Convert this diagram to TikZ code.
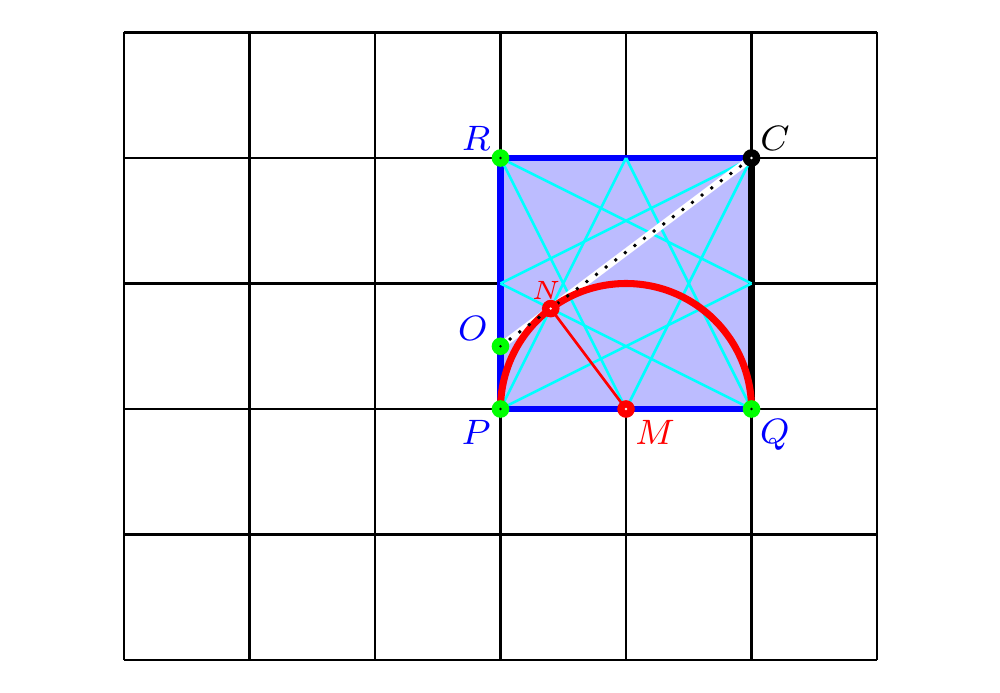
\documentclass[tikz,border=0pt]{standalone}
\usetikzlibrary{calc}
\definecolor{sqblue}{RGB}{188,188,255}
\definecolor{ptgreen}{RGB}{0,255,0}
\definecolor{starcyan}{RGB}{0,255,255}
\begin{document}
\begin{tikzpicture}[
  gridline/.style={black, line width=0.5pt},
  sqborder/.style={blue, line width=1.4pt},
  sideline/.style={black, line width=1.4pt},
  starline/.style={starcyan, line width=0.6pt},
  arcline/.style={red, line width=1.6pt},
  radline/.style={red, line width=0.6pt},
  whiteline/.style={white, line width=1.6pt},
  dotline/.style={black, line width=0.9pt, line cap=round, dash pattern=on 0pt off 2.72pt},
  lab/.style={font=\fontsize{8.4}{10}\selectfont, inner sep=0pt},
  smalllab/.style={font=\fontsize{5.8}{7}\selectfont, inner sep=0pt}
]
\useasboundingbox (-0.988,-0.255) rectangle (6.980,5.259);
% grid
\draw[gridline] (0,0) grid (6,5);
% points
\coordinate (P) at (3,2);
\coordinate (Q) at (5,2);
\coordinate (R) at (3,4);
\coordinate (C) at (5,4);
\coordinate (M) at (4,2);
\coordinate (O) at (3,2.5);
\coordinate (N) at (3.4,2.8);
\coordinate (T) at (4,4);
\coordinate (L) at (3,3);
\coordinate (Rm) at (5,3);
% square
\fill[sqblue] (P) rectangle (C);
\draw[sqborder] (Q) -- (P) -- (R) -- (C);
\draw[sideline] (C) -- (Q);
% star
\draw[starline] (R) -- (Rm);
\draw[starline] (R) -- (M);
\draw[starline] (C) -- (L);
\draw[starline] (C) -- (M);
\draw[starline] (P) -- (T);
\draw[starline] (P) -- (Rm);
\draw[starline] (Q) -- (T);
\draw[starline] (Q) -- (L);
% tangent line
\draw[whiteline] (O) -- (C);
% semicircle
\draw[arcline] (Q) arc[start angle=0, end angle=180, radius=1];
\draw[dotline] (O) -- (C);
\draw[radline] (N) -- (M);
% point marks
\foreach \p in {P,Q,R,O}{
  \fill[ptgreen] (\p) circle (2pt);
  \fill[black] (\p) circle (0.3pt);
}
\fill[black] (C) circle (2pt);
\fill[white] (C) circle (0.3pt);
\foreach \p in {M,N}{
  \fill[red] (\p) circle (2pt);
  \fill[white] (\p) circle (0.3pt);
}
% labels
\node[lab, text=blue] (lR) at ($(R)+(-0.195,0.159)$) {$R$};
\node[lab, text=black] (lC) at ($(C)+(0.187,0.159)$) {$C$};
\node[lab, text=blue] (lO) at ($(O)+(-0.22,0.145)$) {$O$};
\node[lab, text=blue] (lP) at ($(P)+(-0.195,-0.183)$) {$P$};
\node[lab, text=red] (lM) at ($(M)+(0.231,-0.183)$) {$M$};
\node[lab, text=blue] (lQ) at ($(Q)+(0.187,-0.21)$) {$Q$};
\node[smalllab, text=red] (lN) at ($(N)+(-0.037,0.148)$) {$N$};
\end{tikzpicture}
\end{document}
